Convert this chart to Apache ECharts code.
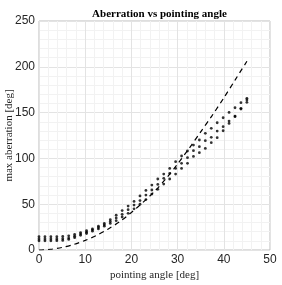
<!DOCTYPE html>
<html>
<head>
<meta charset="utf-8">
<script src="https://cdn.jsdelivr.net/npm/echarts@6/dist/echarts.min.js"></script>
<style>html,body{margin:0;padding:0;background:#fff}#c{width:282px;height:285px}</style>
</head>
<body>
<div id="c"></div>
<script>
const xAngles = [0, 1.29, 2.57, 3.86, 5.14, 6.43, 7.71, 9, 10.29, 11.57, 12.86, 14.14, 15.43, 16.71, 18, 19.29, 20.57, 21.86, 23.14, 24.43, 25.71, 27, 28.29, 29.57, 30.86, 32.14, 33.43, 34.71, 36, 37.29, 38.57, 39.86, 41.14, 42.43, 43.71, 45];
const seriesA = [14.5, 14.5, 14.5, 14.5, 14.8, 15.5, 17, 19, 21, 23, 26, 29, 33, 38, 43, 48, 53, 59, 65, 70.9, 77.5, 82.9, 89.1, 96.4, 102.6, 108.1, 114.6, 120.1, 127.4, 132.8, 138.9, 144.4, 150.2, 155.3, 160.8, 165.6];
const seriesB = [12, 12, 12, 12, 12.3, 13, 15, 17.5, 19.5, 22, 24.5, 27.5, 31, 35, 39, 44, 49, 54, 60, 65.5, 71.6, 78.2, 83.6, 89.1, 94.6, 100.8, 108.4, 112.8, 119.3, 123, 129.8, 134.6, 140.8, 146.2, 154.7, 163.8];
const seriesC = [10, 10, 10, 10.2, 10.5, 11.5, 13.5, 16, 18, 20.5, 23, 26, 29, 32, 36, 40, 45, 50, 55, 61.1, 66.2, 72, 77.5, 82.9, 89.1, 94.6, 102.2, 106.3, 110.9, 117.2, 122.6, 130.2, 138.2, 145.5, 153.9, 161.2];
const dashX = [0, 2.5, 5, 7.5, 10, 12.5, 15, 17.5, 20, 22.5, 25, 27.5, 30, 32.5, 35, 37.5, 40, 42.5, 45];
const dashY = [0, 0.8, 2.8, 6, 10.5, 16, 23, 31, 41, 52, 64, 78, 94, 111, 129, 147, 166, 186, 206];
const xTicks = [0, 10, 20, 30, 40, 50];
const yTicks = [0, 50, 100, 150, 200, 250];

const pairs = (xs, ys) => xs.map((x, i) => [x, ys[i]]);
const dotSeries = ys => ({
  type: 'scatter', data: pairs(xAngles, ys), symbol: 'circle', symbolSize: 2.8,
  itemStyle: { color: '#000' }, silent: true, z: 3
});

const chart = echarts.init(document.getElementById('c'), null, { renderer: 'canvas' });
chart.setOption({
  animation: false,
  backgroundColor: '#fff',
  title: {
    text: 'Aberration vs pointing angle', left: 154.5, textAlign: 'center', top: 4,
    textStyle: { fontFamily: 'Liberation Serif', fontWeight: 'bold', fontSize: 11, color: '#000' }
  },
  grid: { left: 39, right: 12, top: 21, bottom: 35, show: true, borderColor: '#bdbdbd', borderWidth: 1, containLabel: false, outerBoundsMode: 'none' },
  xAxis: {
    type: 'value', min: xTicks[0], max: xTicks[xTicks.length - 1], interval: 10,
    name: 'pointing angle [deg]', nameLocation: 'middle', nameGap: 20, nameMoveOverlap: false,
    nameTextStyle: { fontFamily: 'Liberation Serif', fontSize: 11, color: '#262626' },
    axisLine: { show: false }, axisTick: { show: false },
    axisLabel: { fontFamily: 'Liberation Sans', fontSize: 12, color: '#262626', margin: 4 },
    splitLine: { show: true, lineStyle: { color: '#e3e3e3', width: 1 } },
    minorTick: { show: false, splitNumber: 5 },
    minorSplitLine: { show: true, lineStyle: { color: '#f2f2f2', width: 1 } }
  },
  yAxis: {
    type: 'value', min: yTicks[0], max: yTicks[yTicks.length - 1], interval: 50,
    name: 'max aberration [deg]', nameLocation: 'middle', nameGap: 24, nameMoveOverlap: false,
    nameTextStyle: { fontFamily: 'Liberation Serif', fontSize: 11, color: '#262626' },
    axisLine: { show: false }, axisTick: { show: false },
    axisLabel: { fontFamily: 'Liberation Sans', fontSize: 12, color: '#262626', margin: 4 },
    splitLine: { show: true, lineStyle: { color: '#e3e3e3', width: 1 } },
    minorTick: { show: false, splitNumber: 5 },
    minorSplitLine: { show: true, lineStyle: { color: '#f2f2f2', width: 1 } }
  },
  series: [
    {
      type: 'line', data: pairs(dashX, dashY), smooth: 0.3, showSymbol: false, silent: true, z: 2,
      lineStyle: { color: '#000', width: 1.2, type: [5, 4] }
    },
    dotSeries(seriesA),
    dotSeries(seriesB),
    dotSeries(seriesC)
  ]
});
</script>
</body>
</html>
